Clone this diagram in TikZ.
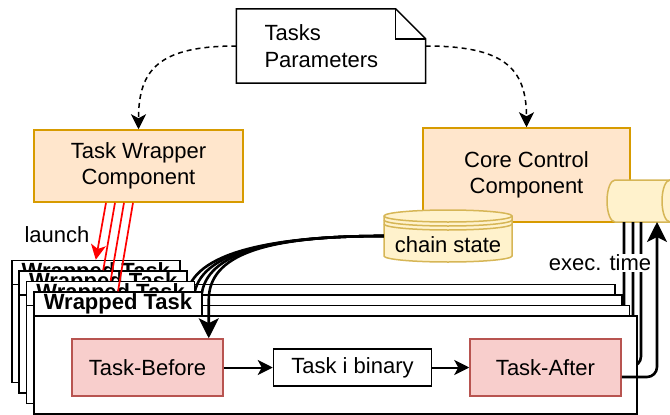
\documentclass[tikz,border=0pt]{standalone}
\usepackage{fontspec}
\setmainfont{Liberation Sans}
\usetikzlibrary{arrows.meta,positioning}

\definecolor{peachfill}{HTML}{FFE6CC}
\definecolor{peachline}{HTML}{D79B00}
\definecolor{pinkfill}{HTML}{F8CECC}
\definecolor{pinkline}{HTML}{B85450}
\definecolor{sandfill}{HTML}{FFF2CC}
\definecolor{sandline}{HTML}{D6B656}
\newcommand{\dfont}{\fontsize{22}{26.5}\selectfont}

\tikzset{
  smalltip/.style={-{Stealth[length=15pt,width=15pt,inset=4pt]}},
  bigtip/.style={-{Stealth[length=20pt,width=20pt,inset=5pt]}},
  comp/.style={draw=peachline,fill=peachfill,line width=1.5pt,align=center},
  hook/.style={draw=pinkline,fill=pinkfill,line width=1.5pt,minimum width=151pt,minimum height=57pt,inner sep=0pt},
  binbox/.style={draw,fill=white,line width=1.5pt,minimum width=158pt,minimum height=37pt,inner sep=0pt},
  ttlbox/.style={draw,fill=white,line width=1.5pt,minimum width=168pt,minimum height=24pt,inner sep=0pt,font=\dfont\bfseries},
  framebox/.style={draw,fill=white,line width=1.5pt},
  store/.style={draw=sandline,fill=sandfill,line width=1.5pt},
  param/.style={line width=1.5pt,dash pattern=on 5pt off 4pt},
  link/.style={line width=2pt},
  flow/.style={line width=2.6pt},
  launch/.style={draw=red,line width=1.7pt}
}

\begin{document}
\begin{tikzpicture}[x=1pt,y=-1pt,font=\dfont]
  \useasboundingbox (0,0) rectangle (670,415);
  %parameters note
  \node[align=left,text width=133pt,inner xsep=28pt,minimum height=74pt] (tp) at (331,46) {Tasks\\Parameters};
  \draw[line width=1.5pt] (tp.south west) -- (tp.north west) -- ([xshift=-30pt]tp.north east)
    -- ([yshift=-30pt]tp.north east) -- (tp.south east) -- cycle;
  \draw[line width=1.5pt] ([xshift=-30pt]tp.north east) |- ([yshift=-30pt]tp.north east);
  %components
  \node[comp,minimum width=209pt,minimum height=72pt] (tw) at (138.5,166) {Task Wrapper\\Component};
  \node[comp,minimum width=207pt,minimum height=94pt] (cc) at (526.5,175) {Core Control\\Component};
  \draw[param,smalltip] (tp.west) .. controls +(-77,0) and +(0,-60) .. (tw.north);
  \draw[param,smalltip] (tp.east) .. controls +(77,0) and +(0,-60) .. (cc.north);
  %chain state store
  \draw[store] (384,216) -- (384,256) arc[start angle=180,end angle=360,x radius=64pt,y radius=6pt]
    -- (512,216) arc[start angle=0,end angle=180,x radius=64pt,y radius=6pt] -- cycle;
  \foreach \d in {0,4,8}
    \draw[store,fill=none] (384,{216+\d}) arc[start angle=180,end angle=360,x radius=64pt,y radius=6pt];
  \node[minimum width=128pt,minimum height=52pt,text height=32pt,text depth=0pt] (cs) at (448,236) {chain state};
  %queue
  \draw[store] (615,180) arc[start angle=90,end angle=270,x radius=8pt,y radius=21pt] -- (670,222) -- (670,180) -- cycle;
  \draw[store] (670,201) ellipse[x radius=8pt,y radius=21pt];
  \coordinate (qb) at (640,222);
  %wrapped tasks
  \foreach \j/\ex/\tip in {3/624/-,2/633/-,1/641/-,0/657/bigtip}{
    \begin{scope}[shift={(-7.4*\j,-10.5*\j)}]
      \draw[framebox] (34,316) rectangle (637,414);
      \node[ttlbox] (ttl\j) at (118,304) {Wrapped Task};
      \node[hook] (tb\j) at (147.5,367.5) {Task-Before};
      \node[binbox,right=49pt of tb\j] (bin\j) {Task i binary};
      \node[hook,right=37pt of bin\j] (ta\j) {Task-After};
      \draw[link,smalltip] (tb\j) -- (bin\j);
      \draw[link,smalltip] (bin\j) -- (ta\j);
    \end{scope}
    \draw[flow,\tip] (cs.west) .. controls +(-120,0) and +(0,-45) .. ([xshift=-15pt]tb\j.north east |- 0,300)
      -- ([xshift=-15pt]tb\j.north east);
    \draw[flow,\tip,rounded corners=10pt] ([yshift=-9.5pt]ta\j.east) -| (\ex,0 |- qb);
  }
  %launch
  \foreach \j/\sx/\tip in {3/-32.5pt/smalltip,2/-23.5pt/-,1/-14.5pt/-,0/-5.5pt/-}
    \draw[launch,\tip] ([xshift=\sx]tw.south) -- (ttl\j.north);
  \node (lnch) at (57,235) {launch};
  \node[fill=white,inner sep=1pt] (ext) at (600,263) {exec. time};
\end{tikzpicture}
\end{document}
